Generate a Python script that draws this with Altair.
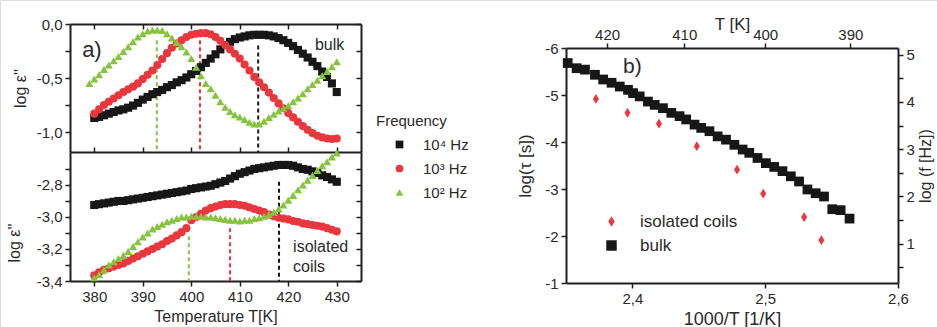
import altair as alt
import pandas as pd

FONT = "Liberation Sans"
INK = "#1e1e1e"
LABEL = "#2a2a2a"
W, H = 937, 327

# ---------------- panel a) : log eps'' vs temperature ----------------
FREQ = ["10\u2074 Hz", "10\u00b3 Hz", "10\u00b2 Hz"]
FREQ_COLORS = ["#171717", "#e8373e", "#86c440"]
FREQ_SHAPES = ["square", "circle", "triangle-up"]

T_a = list(range(380, 431))
T_a_green_top = list(range(379, 431))

bulk_1e4 = [-0.87, -0.86, -0.845, -0.83, -0.815, -0.80, -0.79, -0.775, -0.755, -0.73,
            -0.70, -0.675, -0.65, -0.63, -0.61, -0.585, -0.565, -0.54, -0.52, -0.495,
            -0.465, -0.435, -0.40, -0.36, -0.32, -0.28, -0.235, -0.195, -0.165, -0.14,
            -0.125, -0.115, -0.105, -0.10, -0.10, -0.10, -0.105, -0.115, -0.13, -0.15,
            -0.175, -0.205, -0.24, -0.275, -0.31, -0.35, -0.39, -0.44, -0.49, -0.55, -0.63]
bulk_1e3 = [-0.83, -0.79, -0.75, -0.72, -0.69, -0.66, -0.63, -0.605, -0.58, -0.55,
            -0.51, -0.47, -0.43, -0.38, -0.325, -0.27, -0.22, -0.18, -0.15, -0.12,
            -0.10, -0.09, -0.085, -0.085, -0.095, -0.12, -0.155, -0.195, -0.235, -0.275,
            -0.32, -0.375, -0.43, -0.49, -0.54, -0.585, -0.635, -0.685, -0.735, -0.78,
            -0.825, -0.865, -0.905, -0.945, -0.98, -1.01, -1.035, -1.05, -1.06, -1.065, -1.06]
bulk_1e2 = [-0.55, -0.51, -0.47, -0.42, -0.38, -0.34, -0.30, -0.255, -0.21, -0.165,
            -0.12, -0.09, -0.065, -0.055, -0.055, -0.06, -0.09, -0.13, -0.17, -0.21,
            -0.26, -0.32, -0.40, -0.48, -0.55, -0.60, -0.66, -0.72, -0.77, -0.81,
            -0.84, -0.86, -0.885, -0.91, -0.925, -0.925, -0.90, -0.865, -0.835, -0.805,
            -0.78, -0.755, -0.72, -0.685, -0.645, -0.60, -0.56, -0.52, -0.48, -0.44, -0.395, -0.35]

iso_1e4 = [-2.925, -2.92, -2.915, -2.91, -2.905, -2.90, -2.90, -2.895, -2.89, -2.885,
           -2.88, -2.875, -2.87, -2.865, -2.86, -2.855, -2.85, -2.845, -2.84, -2.835,
           -2.825, -2.82, -2.815, -2.81, -2.805, -2.795, -2.785, -2.775, -2.76, -2.745,
           -2.73, -2.72, -2.71, -2.70, -2.695, -2.69, -2.685, -2.68, -2.675, -2.675,
           -2.675, -2.68, -2.69, -2.70, -2.705, -2.715, -2.725, -2.74, -2.75, -2.765, -2.78]
iso_1e3 = [-3.365, -3.345, -3.33, -3.32, -3.31, -3.30, -3.29, -3.275, -3.26, -3.245,
           -3.23, -3.215, -3.20, -3.185, -3.17, -3.15, -3.135, -3.115, -3.095, -3.07,
           -3.02, -3.00, -2.98, -2.96, -2.945, -2.935, -2.925, -2.92, -2.92, -2.92,
           -2.925, -2.93, -2.94, -2.95, -2.96, -2.97, -2.985, -2.995, -3.005, -3.01,
           -3.015, -3.025, -3.03, -3.04, -3.045, -3.05, -3.055, -3.06, -3.07, -3.08, -3.09]
iso_1e2 = [-3.38, -3.36, -3.33, -3.30, -3.28, -3.26, -3.24, -3.215, -3.185, -3.155,
           -3.125, -3.10, -3.075, -3.06, -3.045, -3.03, -3.02, -3.01, -3.00, -3.00,
           -2.995, -2.995, -2.995, -3.00, -3.00, -3.005, -3.01, -3.015, -3.02, -3.02,
           -3.025, -3.02, -3.02, -3.01, -3.005, -2.995, -2.985, -2.97, -2.95, -2.925,
           -2.895, -2.865, -2.83, -2.80, -2.77, -2.74, -2.71, -2.68, -2.655, -2.625, -2.60]

# loss-peak markers (dashed lines)
peak_T_top = [413.8, 401.8, 392.9]
peak_v_top = [-0.20, -0.15, -0.15]
peak_T_bot = [418.1, 408.0, 399.5]
peak_v_bot = [-2.78, -3.07, -3.12]

# ---------------- panel b) : relaxation map ----------------
SAMPLES = ["isolated coils", "bulk"]
SAMPLE_COLORS = ["#e8373e", "#171717"]
DIAMOND = "M0,-1L0.62,0L0,1L-0.62,0Z"
SAMPLE_SHAPES = [DIAMOND, "square"]

bulk_invT = [2.3513, 2.358, 2.3643, 2.3718, 2.378, 2.3843, 2.3905, 2.3967, 2.4005, 2.4055,
             2.4117, 2.4168, 2.423, 2.4293, 2.4355, 2.4405, 2.4468, 2.4518, 2.458, 2.4642,
             2.4705, 2.4768, 2.483, 2.488, 2.4942, 2.5005, 2.5068, 2.513, 2.5193, 2.5255,
             2.5318, 2.538, 2.5443, 2.5505, 2.5568, 2.5635]
bulk_logtau = [-5.68, -5.57, -5.54, -5.43, -5.33, -5.26, -5.18, -5.11, -5.04, -4.97,
               -4.86, -4.79, -4.72, -4.62, -4.55, -4.48, -4.37, -4.30, -4.23, -4.12,
               -4.05, -3.94, -3.84, -3.77, -3.66, -3.55, -3.47, -3.38, -3.27, -3.16,
               -2.99, -2.91, -2.84, -2.57, -2.55, -2.37]
iso_invT = [2.3725, 2.3963, 2.42, 2.4485, 2.4788, 2.4985, 2.5293, 2.5423]
iso_logtau = [-4.915, -4.62, -4.39, -3.91, -3.41, -2.90, -2.40, -1.91]

top_T_ticks = [420, 410, 400, 390]
logf_ticks = [0.5, 1, 1.5, 2, 2.5, 3, 3.5, 4, 4.5, 5]

# ---------------- tables ----------------
rows = []
for f, vals in zip(FREQ, [bulk_1e4, bulk_1e3]):
    rows += [{"T": t, "v": v, "freq": f} for t, v in zip(T_a, vals)]
rows += [{"T": t, "v": v, "freq": FREQ[2]} for t, v in zip(T_a_green_top, bulk_1e2)]
df_top = pd.DataFrame(rows)

rows = []
for f, vals in zip(FREQ, [iso_1e4, iso_1e3, iso_1e2]):
    rows += [{"T": t, "v": v, "freq": f} for t, v in zip(T_a, vals)]
df_bot = pd.DataFrame(rows)

df_peak_top = pd.DataFrame({"T": peak_T_top, "v": peak_v_top, "freq": FREQ})
df_peak_bot = pd.DataFrame({"T": peak_T_bot, "v": peak_v_bot, "freq": FREQ})

df_b = pd.DataFrame(
    [{"invT": x, "logtau": y, "sample": "bulk"} for x, y in zip(bulk_invT, bulk_logtau)]
    + [{"invT": x, "logtau": y, "sample": "isolated coils"} for x, y in zip(iso_invT, iso_logtau)]
)

# ---------------- scales (pixel ranges place the panels) ----------------
TOP_MIN, TOP_MAX = -1.185, 0.0
BOT_MIN, BOT_MAX = -3.4, -2.594
xA = alt.Scale(domain=[375, 435], range=[70, 361], nice=False, zero=False)
yAt = alt.Scale(domain=[TOP_MIN, TOP_MAX], range=[152, 24], nice=False, zero=False)
yAb = alt.Scale(domain=[BOT_MIN, BOT_MAX], range=[281, 152], nice=False, zero=False)
xB = alt.Scale(domain=[2.35, 2.6], range=[566, 898], nice=False, zero=False)
yB = alt.Scale(domain=[-6, -1], range=[48, 283], nice=False, zero=False)
yBr = alt.Scale(domain=[0.17, 5.14], range=[283, 48], nice=False, zero=False)
colA = alt.Scale(domain=FREQ, range=FREQ_COLORS)
shpA = alt.Scale(domain=FREQ, range=FREQ_SHAPES)
colB = alt.Scale(domain=SAMPLES, range=SAMPLE_COLORS)
shpB = alt.Scale(domain=SAMPLES, range=SAMPLE_SHAPES)

MINUS = "\u2212"
def comma(fmt):
    return f"replace(replace(format(datum.value, '{fmt}'), '.', ','), '{MINUS}', '-')"

def ax(**kw):
    base = dict(grid=False, domainColor=INK, domainWidth=2, tickColor=INK, tickWidth=1.5,
                tickSize=5, labelColor=LABEL, labelFont=FONT, labelFontSize=15,
                labelFlush=False, labelOverlap=False, labelPadding=3,
                titleFont=FONT, titleFontSize=16, titleFontWeight="normal", titleColor=LABEL)
    base.update(kw)
    return alt.Axis(**base)

xticksA = [380, 390, 400, 410, 420, 430]
yticks_top = [0, -0.25, -0.5, -0.75, -1.0]
yticks_bot = [-2.7, -2.8, -2.9, -3.0, -3.1, -3.2, -3.3, -3.4]
lab_top = f"abs(datum.value*2 - round(datum.value*2)) < 0.001 ? {comma('.1f')} : ''"
lab_bot = f"abs(datum.value*5 - round(datum.value*5)) < 0.001 ? {comma('.1f')} : ''"

legA = dict(title="Frequency", orient="none", legendX=376, legendY=114,
            titleFont=FONT, titleFontSize=15, titleFontWeight="normal", titleColor=LABEL,
            labelFont=FONT, labelFontSize=15, labelColor=LABEL, symbolSize=60,
            symbolOffset=16, labelOffset=16, rowPadding=8, titlePadding=8)
legB = dict(title=None, orient="none", legendX=603, legendY=213,
            labelFont=FONT, labelFontSize=17, labelColor=LABEL, symbolSize=110,
            labelOffset=20, rowPadding=6)

# dashed peak lines, top panel (also carries top edge + right edge axes)
rule_top = alt.Chart(df_peak_top).mark_rule(strokeDash=[4, 3], strokeWidth=2).encode(
    x=alt.X("T:Q", scale=xA, axis=ax(orient="bottom", offset=-(H - 24), labels=False,
                                     values=xticksA, title=None)),
    y=alt.Y("v:Q", scale=yAt, axis=ax(orient="left", offset=-361, labels=False,
                                      values=yticks_top, title=None)),
    y2=alt.datum(TOP_MIN),
    color=alt.Color("freq:N", scale=colA, legend=None),
)
rule_bot = alt.Chart(df_peak_bot).mark_rule(strokeDash=[4, 3], strokeWidth=2).encode(
    x=alt.X("T:Q", scale=xA, axis=None),
    y=alt.Y("v:Q", scale=yAb, axis=ax(orient="left", offset=-361, labels=False,
                                      values=yticks_bot, title=None)),
    y2=alt.datum(BOT_MIN),
    color=alt.Color("freq:N", scale=colA, legend=None),
)

pts_top = alt.Chart(df_top).mark_point(filled=True, size=66, opacity=1).encode(
    x=alt.X("T:Q", scale=xA, axis=ax(orient="top", offset=-152, labels=False,
                                     values=xticksA, title=None)),
    y=alt.Y("v:Q", scale=yAt, axis=ax(orient="left", offset=-70, values=yticks_top,
                                      labelExpr=lab_top, title="log \u03b5''", titlePadding=8)),
    color=alt.Color("freq:N", scale=colA, legend=alt.Legend(**legA)),
    shape=alt.Shape("freq:N", scale=shpA, legend=alt.Legend(**legA)),
)
pts_bot = alt.Chart(df_bot).mark_point(filled=True, size=66, opacity=1).encode(
    x=alt.X("T:Q", scale=xA, axis=ax(orient="bottom", offset=-(H - 281), values=xticksA,
                                     labelExpr="format(datum.value, 'd')",
                                     title="Temperature T[K]", titlePadding=4)),
    y=alt.Y("v:Q", scale=yAb, axis=ax(orient="left", offset=-70, values=yticks_bot,
                                      labelExpr=lab_bot, title="log \u03b5''", titlePadding=14,
                                      titleY=262, titleAlign="left")),
    color=alt.Color("freq:N", scale=colA, legend=None),
    shape=alt.Shape("freq:N", scale=shpA, legend=None),
)

# annotations, panel a
ann_a = alt.Chart(pd.DataFrame({"T": [377.5], "v": [-0.24], "t": ["a)"]})).mark_text(
    align="left", baseline="middle", fontSize=22, font=FONT, color=LABEL).encode(
    x=alt.X("T:Q", scale=xA, axis=None), y=alt.Y("v:Q", scale=yAt, axis=None), text="t:N")
ann_bulk = alt.Chart(pd.DataFrame({"T": [425.5], "v": [-0.19], "t": ["bulk"]})).mark_text(
    align="left", baseline="middle", fontSize=16, font=FONT, color=LABEL).encode(
    x=alt.X("T:Q", scale=xA, axis=None), y=alt.Y("v:Q", scale=yAt, axis=None), text="t:N")
ann_iso = alt.Chart(pd.DataFrame({"T": [421.0, 421.0], "v": [-3.19, -3.31],
                                  "t": ["isolated", "coils"]})).mark_text(
    align="left", baseline="middle", fontSize=16, font=FONT, color=LABEL).encode(
    x=alt.X("T:Q", scale=xA, axis=None), y=alt.Y("v:Q", scale=yAb, axis=None), text="t:N")

# panel b
pts_b = alt.Chart(df_b).mark_point(filled=True, size=95, opacity=1).encode(
    x=alt.X("invT:Q", scale=xB, axis=ax(orient="bottom", offset=-(H - 283), values=[2.4, 2.5, 2.6],
                                        labelExpr=comma('.1f'), title="1000/T [1/K]",
                                        titleFontSize=18, titlePadding=4)),
    y=alt.Y("logtau:Q", scale=yB, axis=ax(orient="left", offset=-566, values=[-6, -5, -4, -3, -2, -1],
                                          labelExpr=f"replace(format(datum.value, 'd'), '{MINUS}', '-')",
                                          title="log(\u03c4 [s])", titleFontSize=17, titlePadding=10)),
    color=alt.Color("sample:N", scale=colB, legend=alt.Legend(**legB)),
    shape=alt.Shape("sample:N", scale=shpB, legend=alt.Legend(**legB)),
)
top_axis_b = alt.Chart(pd.DataFrame({"T": top_T_ticks})).transform_calculate(
    invT="1000 / datum.T").mark_point(opacity=0).encode(
    x=alt.X("invT:Q", scale=xB, axis=ax(orient="top", offset=-48,
                                        values=[1000.0 / t for t in top_T_ticks],
                                        labelExpr="format(1000 / datum.value, '.0f')",
                                        labelPadding=1,
                                        title="T [K]", titleFontSize=17, titlePadding=-6)),
)
right_axis_b = alt.Chart(pd.DataFrame({"logf": logf_ticks})).mark_point(opacity=0).encode(
    y=alt.Y("logf:Q", scale=yBr, axis=ax(orient="right", offset=-(W - 898), values=logf_ticks,
                                         labelExpr="datum.value % 1 == 0 ? format(datum.value, 'd') : ''",
                                         title="log (f [Hz])", titleFontSize=16, titleAngle=270,
                                         titleBaseline="top", titlePadding=3)),
)
ann_b = alt.Chart(pd.DataFrame({"x": [2.393], "y": [-5.6], "t": ["b)"]})).mark_text(
    align="left", baseline="middle", fontSize=21, font=FONT, color=LABEL).encode(
    x=alt.X("x:Q", scale=xB, axis=None), y=alt.Y("y:Q", scale=yB, axis=None), text="t:N")

chart = alt.layer(
    rule_top, rule_bot, pts_top, pts_bot, ann_a, ann_bulk, ann_iso,
    pts_b, top_axis_b, right_axis_b, ann_b,
).resolve_scale(
    x="independent", y="independent", color="independent", shape="independent"
).properties(
    width=W, height=H, autosize=alt.AutoSizeParams(type="none"), padding=0,
    background="white",
).configure_view(stroke=None).configure(font=FONT)

chart.save("out.html", embed_options={"renderer": "svg", "actions": False})
